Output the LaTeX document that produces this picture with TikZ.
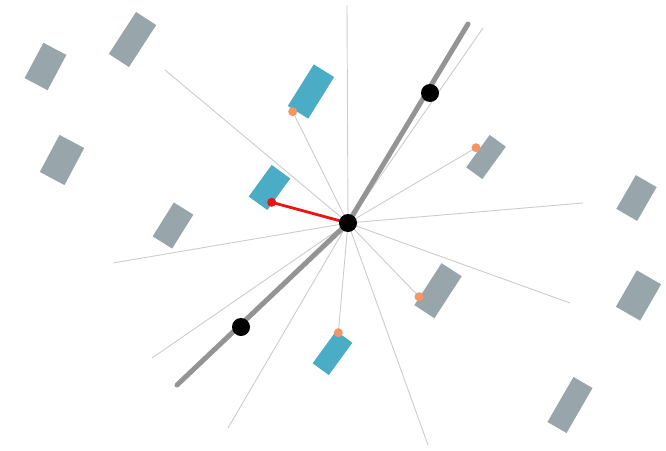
\documentclass[tikz,border=0pt]{standalone}
\begin{document}
\begin{tikzpicture}[x=1pt,y=-1pt,
  thin ray/.style={draw=black!20, line width=0.9pt},
  spine/.style={draw=black!42, line width=5pt, line cap=round},
  grayrect/.style={rectangle, fill=graybox, inner sep=0pt, draw=none},
  tealrect/.style={rectangle, fill=tealbox, inner sep=0pt, draw=none},
  odot/.style={circle, fill=orangedot, inner sep=0pt, minimum size=9pt},
  bdot/.style={circle, fill=black, inner sep=0pt, minimum size=18pt},
]
\definecolor{graybox}{RGB}{152,166,171}
\definecolor{tealbox}{RGB}{75,172,198}
\definecolor{orangedot}{RGB}{243,150,100}
\definecolor{redline}{RGB}{235,20,20}
\useasboundingbox (0,0) rectangle (666,450);

% rectangles
\node[grayrect, minimum width=26pt, minimum height=40pt, rotate=-28] (r1) at (45.5,66.5) {};
\node[grayrect, minimum width=24pt, minimum height=50pt, rotate=-33] (r2) at (132.5,39.5) {};
\node[grayrect, minimum width=28pt, minimum height=42pt, rotate=-28] (r3) at (62,160) {};
\node[grayrect, minimum width=23pt, minimum height=40pt, rotate=-32] (r4) at (173,225.5) {};
\node[grayrect, minimum width=24pt, minimum height=39pt, rotate=-30] (r5) at (636.5,198) {};
\node[grayrect, minimum width=28pt, minimum height=42pt, rotate=-30] (r6) at (638.5,295.5) {};
\node[grayrect, minimum width=22pt, minimum height=52pt, rotate=-30] (r7) at (570,405) {};
\node[grayrect, minimum width=20pt, minimum height=40pt, rotate=-36] (r8) at (486,157) {};
\node[grayrect, minimum width=24pt, minimum height=50pt, rotate=-33] (r9) at (438,290.7) {};
\node[tealrect, minimum width=24pt, minimum height=49pt, rotate=-32] (t1) at (311,91.5) {};
\node[tealrect, minimum width=20pt, minimum height=40pt, rotate=-36] (t2) at (332.5,353) {};
\node[tealrect, minimum width=23pt, minimum height=39pt, rotate=-36] (t3) at (269.5,187.5) {};

% hub and free ends
\coordinate (hubc) at (348,223);
\coordinate (e1) at (165,70);
\coordinate (e2) at (347,5);
\coordinate (e3) at (483,28);
\coordinate (e4) at (583,203);
\coordinate (e5) at (570,303);
\coordinate (e6) at (428,445);
\coordinate (e7) at (228,428);
\coordinate (e8) at (152,358);
\coordinate (e9) at (113,263);
\coordinate (sTop) at (468,24);
\coordinate (sBot) at (177,385);

% orange dot positions
\coordinate (o1c) at (292.7,111.7);
\coordinate (o2c) at (476,147.7);
\coordinate (o3c) at (419,296.7);
\coordinate (o4c) at (338.3,332.7);

% thin rays
\foreach \e in {e1,e2,e3,e4,e5,e6,e7,e8,e9,o1c,o2c,o3c,o4c}
  \draw[thin ray] (hubc) -- (\e);

% spine
\draw[spine] (sTop) -- (hubc) -- (sBot);

% dots
\node[odot] (o1) at (o1c) {};
\node[odot] (o2) at (o2c) {};
\node[odot] (o3) at (o3c) {};
\node[odot] (o4) at (o4c) {};
\node[bdot] (b1) at (430,93) {};
\node[bdot] (b2) at (241,327) {};

% red link
\node[circle, fill=redline, inner sep=0pt, minimum size=9pt] (rd) at (271.7,202.3) {};
\draw[redline, line width=2.8pt] (rd.center) -- (hubc);
\node[bdot] (hub) at (hubc) {};
\end{tikzpicture}
\end{document}
